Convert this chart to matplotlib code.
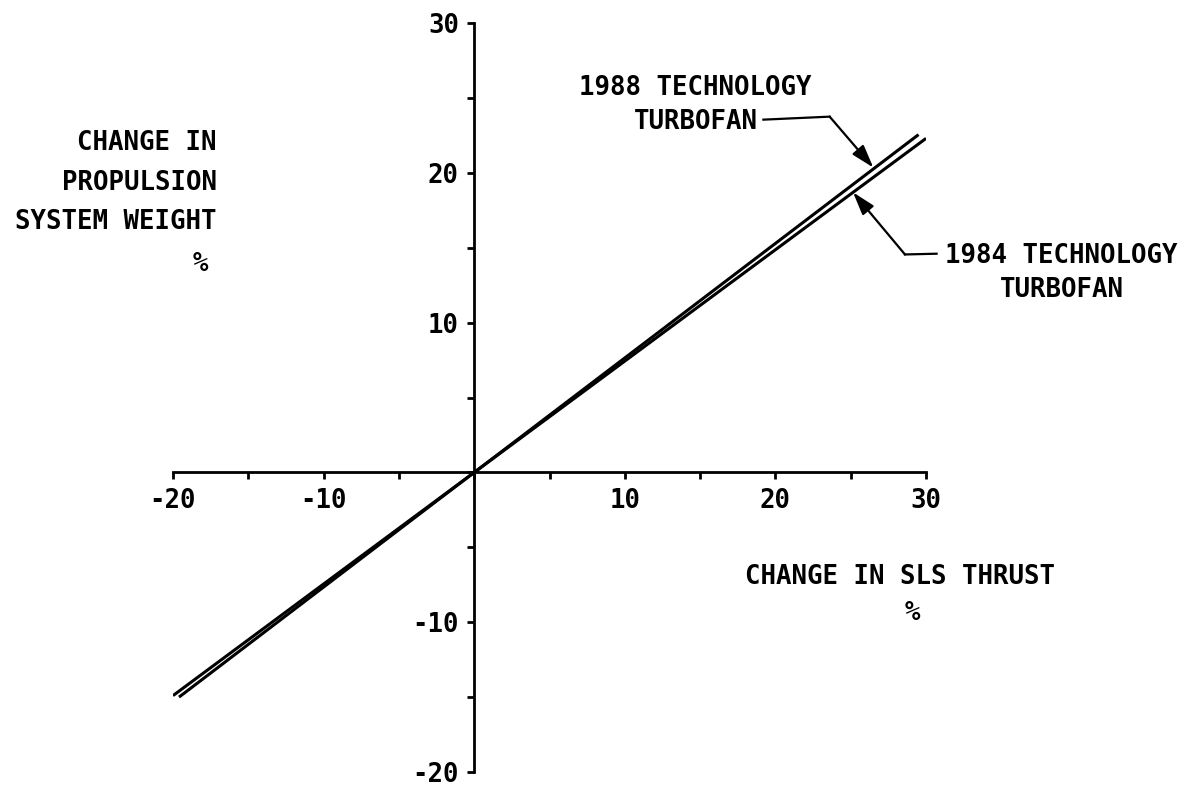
import matplotlib.pyplot as plt
import numpy as np

# (percent change)
thrust_1988 = [-19.6, 0.0, 29.5]
weight_1988 = [-15.0, 0.0, 22.55]
thrust_1984 = [-20.0, 0.0, 30.0]
weight_1984 = [-14.9, 0.0, 22.3]

ticks = np.arange(-20, 31, 5)
tick_labels = ['' if (t % 10 or t == 0) else '%d' % t for t in ticks]

ylabel_lines = ['CHANGE IN', 'PROPULSION', 'SYSTEM WEIGHT']

plt.rcParams['font.family'] = ['DejaVu Sans Mono']
plt.rcParams['font.size'] = 18.5
plt.rcParams['font.weight'] = 'bold'

fig = plt.figure(figsize=(11.98, 7.86), dpi=100)
ax = fig.add_axes([0.1444, 0.0178, 0.6286, 0.9529])
ax.set_xlim(-20, 30)
ax.set_ylim(-20, 30)

for side in ['top', 'right']:
    ax.spines[side].set_visible(False)
for side in ['left', 'bottom']:
    ax.spines[side].set_position(('data', 0))
    ax.spines[side].set_linewidth(2.0)

ax.set_xticks(ticks)
ax.set_xticklabels(tick_labels)
ax.set_yticks(ticks)
ax.set_yticklabels(tick_labels)
ax.tick_params(direction='out', length=5, width=2.0, pad=6)

ax.plot(thrust_1988, weight_1988, color='black', lw=2.2, solid_capstyle='butt')
ax.plot(thrust_1984, weight_1984, color='black', lw=2.2, solid_capstyle='butt')

# y axis label, top-left
for i, line in enumerate(ylabel_lines):
    ax.text(-17.1, 22.0 - 2.65 * i, line, ha='right', va='center', clip_on=False)
ax.text(-18.2, 13.9, '%', ha='center', va='center', clip_on=False)

# x axis label, right of origin
ax.text(18.0, -7.0, 'CHANGE IN SLS THRUST', ha='left', va='center', clip_on=False)
ax.text(29.1, -9.4, '%', ha='center', va='center', clip_on=False)

arrow = dict(arrowstyle='-|>,head_length=0.7,head_width=0.22', lw=1.6,
             color='black', mutation_scale=20, shrinkA=0, shrinkB=0)

# 1988 callout
ax.text(14.7, 24.55, '1988 TECHNOLOGY\nTURBOFAN', ha='center', va='center',
        multialignment='center', linespacing=1.4)
ax.plot([19.2, 23.6], [23.55, 23.75], color='black', lw=1.6)
ax.annotate('', xy=(26.5, 20.35), xytext=(23.6, 23.75), arrowprops=arrow)

# 1984 callout
ax.text(39.0, 13.3, '1984 TECHNOLOGY\nTURBOFAN', ha='center', va='center',
        multialignment='center', linespacing=1.4, clip_on=False)
ax.plot([30.7, 28.6], [14.6, 14.55], color='black', lw=1.6, clip_on=False)
ax.annotate('', xy=(25.15, 18.7), xytext=(28.6, 14.55), arrowprops=arrow)

fig.savefig('out.png', dpi=100)
